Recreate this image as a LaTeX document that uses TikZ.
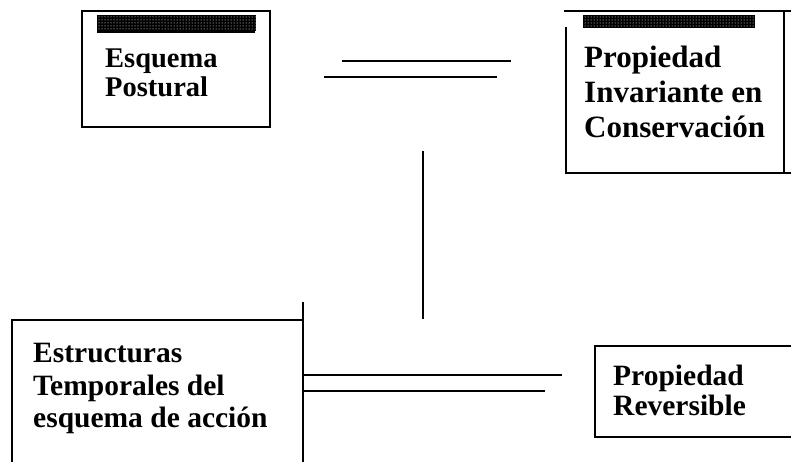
\documentclass[tikz,border=0pt]{standalone}
\usepackage{fontspec}
\setmainfont{Liberation Serif}
\usetikzlibrary{patterns}
\begin{document}
\begin{tikzpicture}[x=1pt,y=-1pt,
  boxline/.style={line width=1.6pt, line cap=rect},
  thinline/.style={line width=1.1pt},
  thickline/.style={line width=2.6pt},
  strip/.style={fill=black, postaction={pattern=dots, pattern color=white}},
  lbl/.style={anchor=north west, inner sep=0pt, align=left, font=\bfseries}
]
\useasboundingbox (0,0) rectangle (791,461);
% Box 1
\draw[boxline] (82,11) rectangle (270,127);
\fill[strip] (97,15) rectangle (256,31);
\draw[line width=2pt] (97,32) -- (255,32);
\node[lbl, font=\bfseries\fontsize{28.5}{29}\selectfont] (esq) at (105,49) {Esquema\\Postural};
% Box 2
\draw[boxline] (565,11) -- (791,11);
\draw[boxline] (566,28) -- (566,173) -- (791,173);
\draw[boxline] (784,11) -- (784,173);
\fill[strip] (583,15) rectangle (755,28);
\node[lbl, font=\bfseries\fontsize{31}{35}\selectfont] (prop) at (584,46) {Propiedad\\Invariante en\\Conservación};
% Box 3
\draw[boxline] (12,461) -- (12,320) -- (303,320);
\draw[boxline] (303,303) -- (303,461);
\node[lbl, font=\bfseries\fontsize{29.5}{32.5}\selectfont] (est) at (33,343) {Estructuras\\Temporales del\\esquema de acción};
% Box 4
\draw[boxline] (791,346) -- (595,346) -- (595,437) -- (791,437);
\node[lbl, font=\bfseries\fontsize{29.5}{30}\selectfont] (rev) at (613,365) {Propiedad\\Reversible};
% connectors
\coordinate (t1a) at (342,61); \coordinate (t1b) at (511,61);
\coordinate (t2a) at (324,77); \coordinate (t2b) at (497,77);
\draw[thinline] (t1a) -- (t1b);
\draw[thickline] (t2a) -- (t2b);
\coordinate (v1) at (423,151); \coordinate (v2) at (423,319);
\draw[thickline] (v1) -- (v2);
\coordinate (b1a) at (303,375); \coordinate (b1b) at (562,375);
\coordinate (b2a) at (303,391); \coordinate (b2b) at (545,391);
\draw[thinline] (b1a) -- (b1b);
\draw[thickline] (b2a) -- (b2b);
\end{tikzpicture}
\end{document}
